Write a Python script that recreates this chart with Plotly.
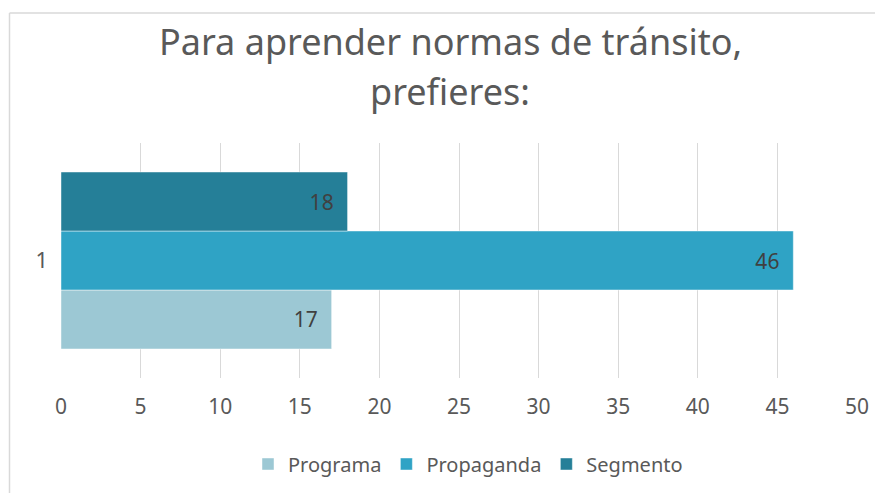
import plotly.graph_objects as go

# chart data
categories = ["1"]
series_names = ["Programa", "Propaganda", "Segmento"]
programa = [17]
propaganda = [46]
segmento = [18]
x_ticks = [0, 5, 10, 15, 20, 25, 30, 35, 40, 45, 50]

colors = {"Programa": "#9cc8d4", "Propaganda": "#2fa3c5", "Segmento": "#257f98"}
values = {"Programa": programa, "Propaganda": propaganda, "Segmento": segmento}

FONT = "Noto Sans"
# page body has an 8px margin, so the figure is laid out 8px smaller
OFF = 8
W, H = 883 - OFF, 493 - OFF
L, R, T, B = 61 - OFF, 26, 143 - OFF, 115
pw, ph = W - L - R, H - T - B

fig = go.Figure()
for name in series_names:
    fig.add_trace(go.Bar(
        y=categories,
        x=values[name],
        name=name,
        orientation="h",
        marker=dict(color=colors[name], line=dict(color="rgba(255,255,255,0.45)", width=1)),
        text=[f"{v}\u00a0\u00a0" for v in values[name]],
        textposition="inside",
        insidetextanchor="end",
        textfont=dict(family=FONT, size=21, color="#404040"),
    ))


def px_x(p):
    # p is a screenshot pixel
    return (p - OFF - L) / pw


def px_y(p):
    return 1 - (p - OFF - T) / ph


# thin frame of the original chart object (top and left edges visible)
fig.add_shape(type="line", xref="paper", yref="paper",
              x0=px_x(9.5), x1=px_x(900), y0=px_y(13), y1=px_y(13),
              line=dict(color="#d9d9d9", width=1.5))
fig.add_shape(type="line", xref="paper", yref="paper",
              x0=px_x(9.5), x1=px_x(9.5), y0=px_y(13), y1=px_y(510),
              line=dict(color="#d9d9d9", width=1.5))

title_lines = ["Para aprender normas de tránsito,", "prefieres:"]
for i, line in enumerate(title_lines):
    fig.add_annotation(text=line, xref="paper", yref="paper",
                       x=px_x(450), y=px_y(41 + 50 * i),
                       xanchor="center", yanchor="middle", showarrow=False,
                       font=dict(family=FONT, size=36, color="#595959"))

fig.update_layout(
    width=W, height=H,
    margin=dict(l=L, r=R, t=T, b=B),
    paper_bgcolor="white", plot_bgcolor="white",
    barmode="group", bargap=0.247, bargroupgap=0,
    showlegend=True,
    legend=dict(orientation="h", xref="container", yref="container",
                x=(468 - OFF) / W, y=1 - (464 - OFF) / H,
                xanchor="center", yanchor="middle",
                font=dict(family=FONT, size=20, color="#595959"),
                traceorder="normal", itemwidth=30),
    xaxis=dict(range=[0, 50], tickvals=x_ticks, showgrid=True, gridcolor="#d9d9d9",
               gridwidth=1, zeroline=False, showline=False, ticks="",
               ticklabelstandoff=14,
               tickfont=dict(family=FONT, size=21, color="#595959")),
    yaxis=dict(type="category", showgrid=False, zeroline=False, showline=False,
               ticks="", ticklabelstandoff=12,
               tickfont=dict(family=FONT, size=22, color="#595959")),
)

fig.write_html("out.html")
